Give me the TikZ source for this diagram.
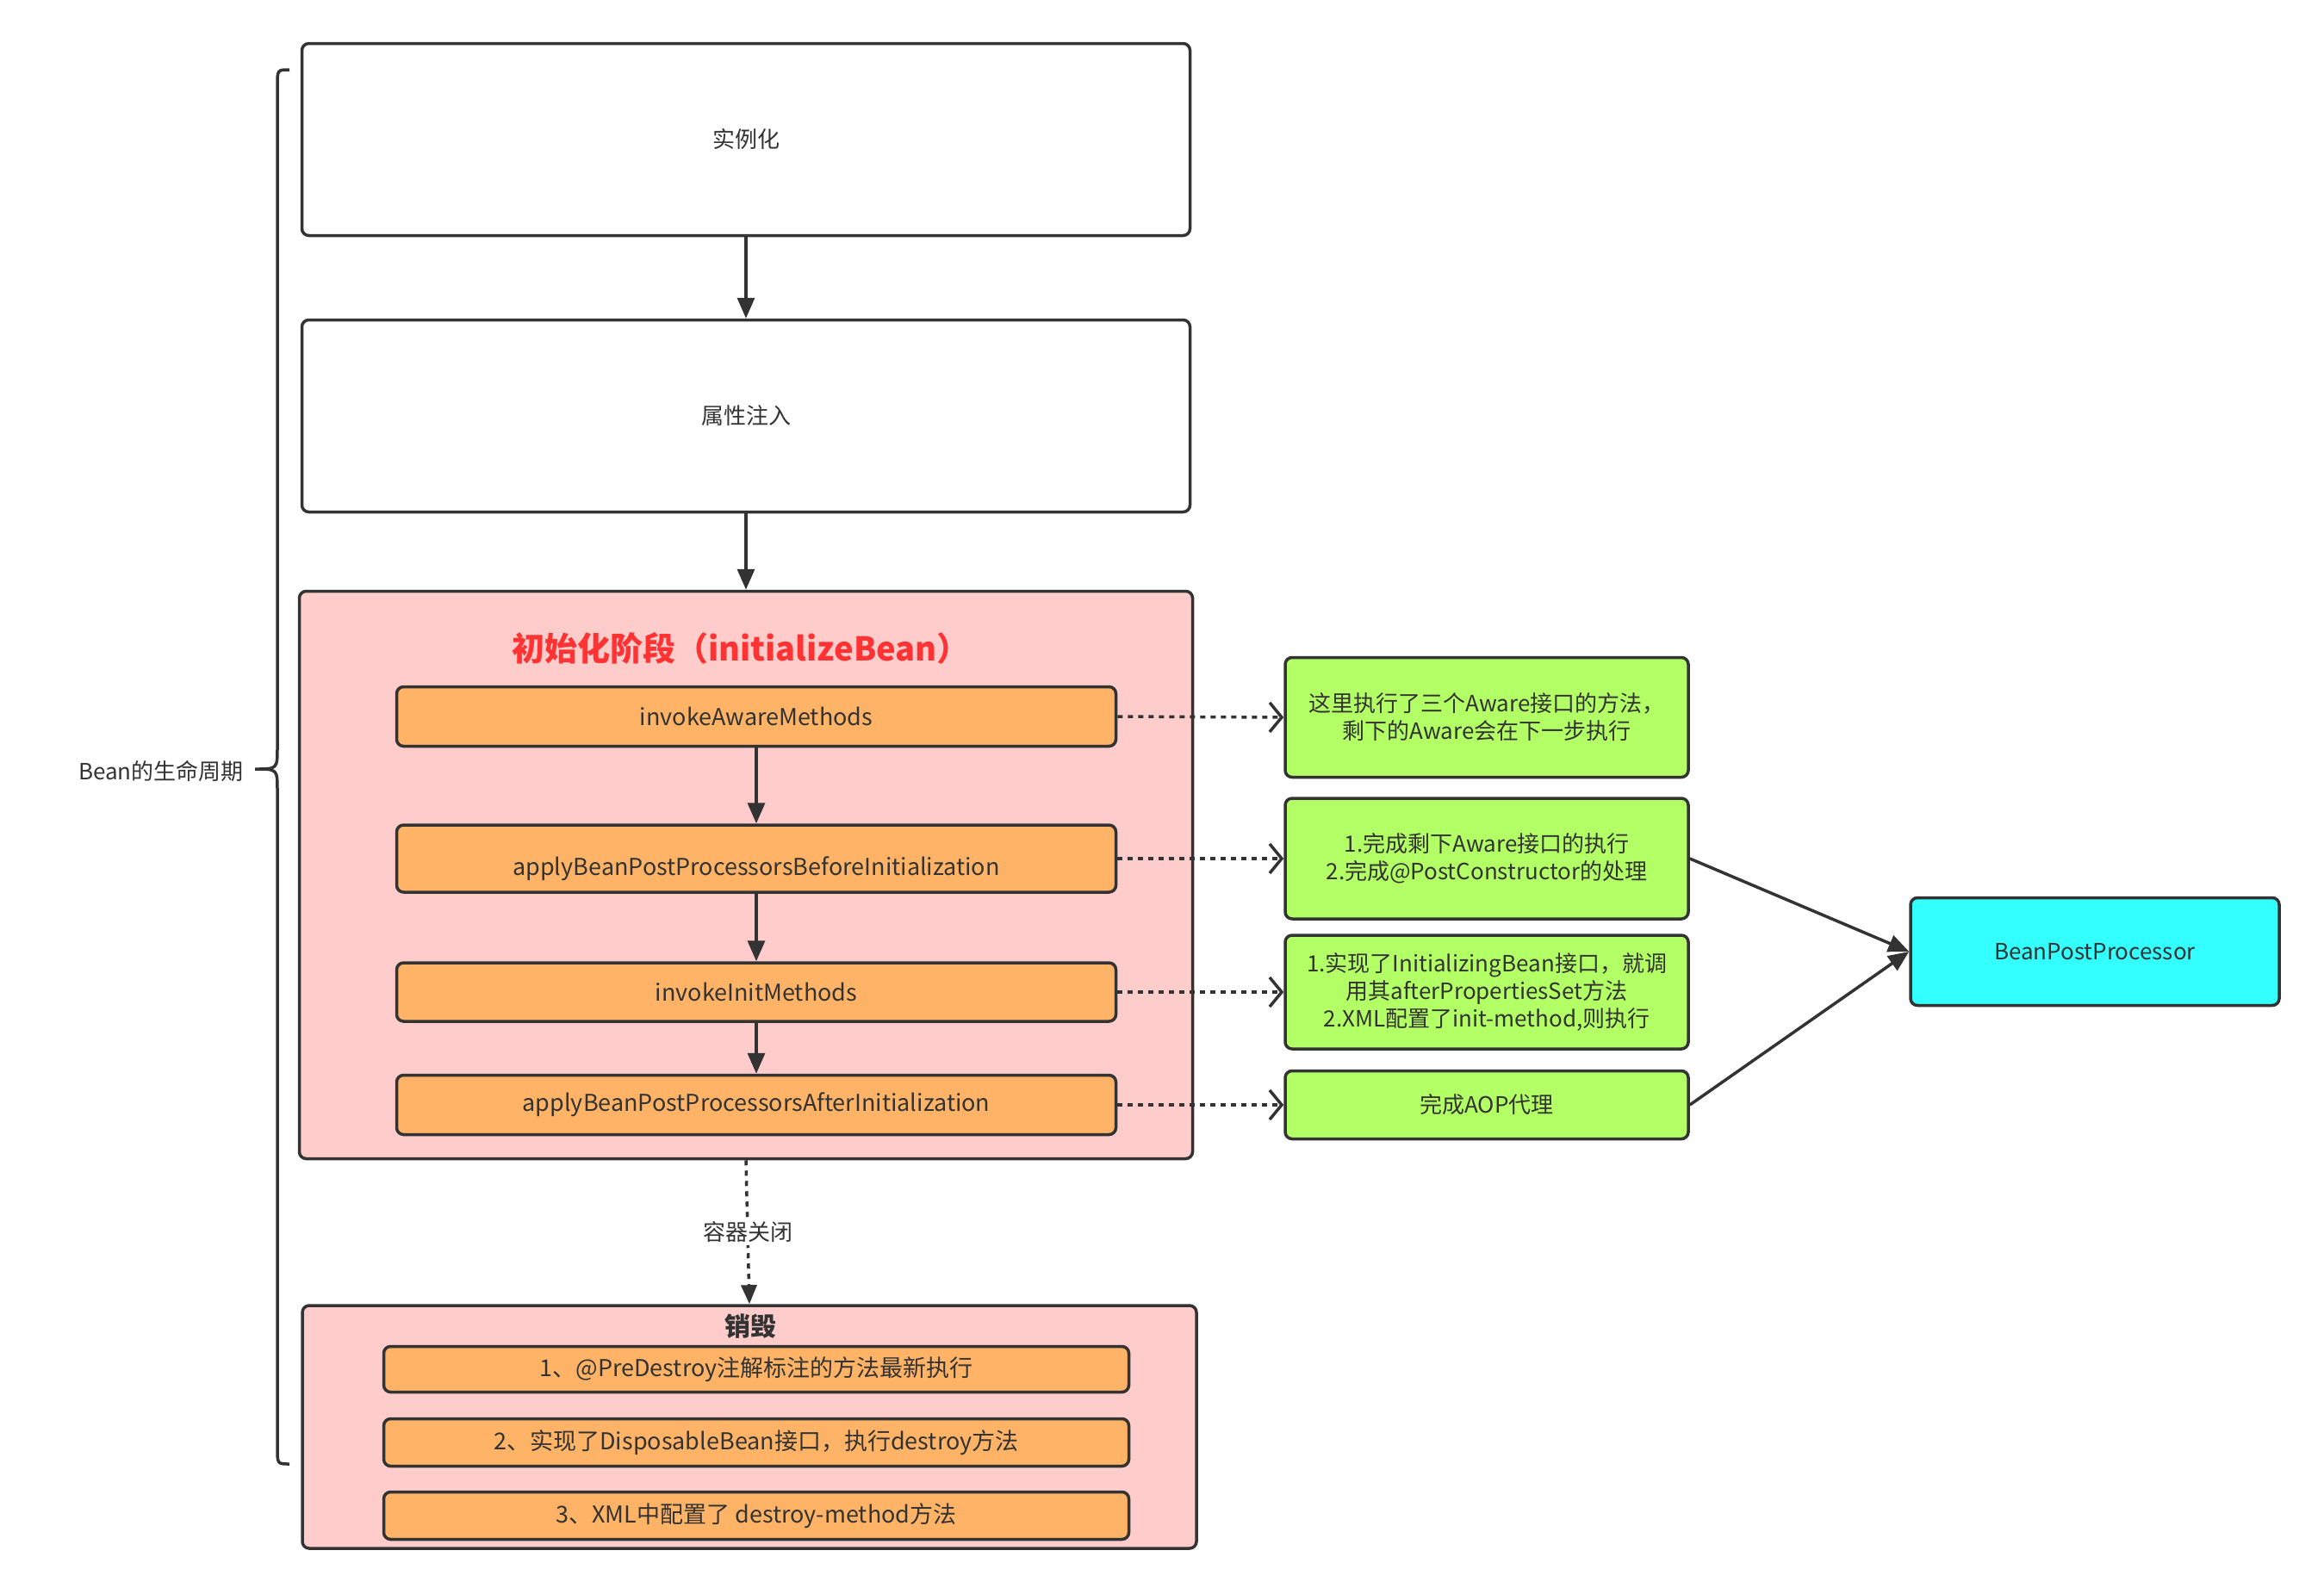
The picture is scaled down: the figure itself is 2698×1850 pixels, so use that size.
\documentclass[tikz,border=0pt]{standalone}
\usepackage{fontspec}
\setmainfont{Noto Sans CJK SC}
\usetikzlibrary{arrows.meta}
\definecolor{ln}{HTML}{333333}
\definecolor{pinkc}{HTML}{FFCCCC}
\definecolor{orangec}{HTML}{FFB366}
\definecolor{greenc}{HTML}{B3FF66}
\definecolor{cyanc}{HTML}{33FFFF}
\definecolor{titlec}{HTML}{FF3333}
\tikzset{
  basebox/.style={draw=ln, line width=3.5pt, rounded corners=8pt, align=center, inner sep=0pt, text=ln},
  whitebox/.style={basebox, fill=white, minimum width=1031pt, minimum height=223pt, font=\fontsize{26}{32}\selectfont},
  pinkbox/.style={basebox, fill=pinkc},
  orangebox/.style={basebox, fill=orangec, minimum width=835pt, font=\fontsize{27}{33}\selectfont},
  dorangebox/.style={basebox, fill=orangec, minimum width=865pt, font=\fontsize{27}{33}\selectfont},
  greenbox/.style={basebox, fill=greenc, minimum width=468pt, font=\fontsize{26}{32}\selectfont},
  cyanbox/.style={basebox, fill=cyanc, minimum width=428pt, minimum height=125pt, font=\fontsize{26}{32}\selectfont},
  solidarrow/.style={draw=ln, line width=3.5pt, -{Triangle[length=24pt,width=20pt]}},
  dotarrow/.style={draw=ln, line width=3.5pt, dash pattern=on 6pt off 6pt, -{Straight Barb[length=14pt,width=34pt,line width=3.5pt]}},
  dotsolidtip/.style={draw=ln, line width=3.5pt, dash pattern=on 6pt off 6pt, -{Triangle[length=22pt,width=18pt]}},
  plainlabel/.style={text=ln, inner sep=2pt}
}
\begin{document}
\begin{tikzpicture}[x=1pt,y=-1pt]
\useasboundingbox (0,0) rectangle (2698,1850);

% top boxes
\node[whitebox] (inst) at (866,162) {实例化};
\node[whitebox] (attr) at (866,483) {属性注入};

% init phase container
\node[pinkbox, minimum width=1037pt, minimum height=659pt] (init) at (866,1016) {};
\node[text=titlec, font=\fontsize{38}{44}\selectfont\bfseries] (title) at (860,753) {初始化阶段（initializeBean）};

\node[orangebox, minimum height=69pt] (o1) at (878,832) {invokeAwareMethods};
\node[orangebox, minimum height=78pt] (o2) at (878,997) {\smash{\raisebox{-19pt}{applyBeanPostProcessorsBeforeInitialization}}};
\node[orangebox, minimum height=68pt] (o3) at (878,1152) {invokeInitMethods};
\node[orangebox, minimum height=69pt] (o4) at (878,1283) {applyBeanPostProcessorsAfterInitialization};

% green notes
\node[greenbox, minimum height=139pt] (g1) at (1726,833) {这里执行了三个Aware接口的方法，\\ 剩下的Aware会在下一步执行};
\node[greenbox, minimum height=140pt] (g2) at (1726,997) {1.完成剩下Aware接口的执行\\2.完成@PostConstructor的处理};
\node[greenbox, minimum height=132pt] (g3) at (1726,1152) {1.实现了InitializingBean接口，就调\\用其afterPropertiesSet方法\\2.XML配置了init-method,则执行};
\node[greenbox, minimum height=79pt] (g4) at (1726,1283) {完成AOP代理};

\node[cyanbox] (bpp) at (2432,1105) {BeanPostProcessor};

% destroy container
\node[pinkbox, minimum width=1038pt, minimum height=282pt] (destroy) at (870,1657) {};
\node[text=ln, font=\fontsize{30}{36}\selectfont\bfseries] (dtitle) at (871,1540) {销毁};
\node[dorangebox, minimum height=53pt] (d1) at (878,1590) {1、@PreDestroy注解标注的方法最新执行};
\node[dorangebox, minimum height=55pt] (d2) at (878,1675) {2、实现了DisposableBean接口，执行destroy方法};
\node[dorangebox, minimum height=55pt] (d3) at (878,1760) {3、XML中配置了 destroy-method方法};

% brace and label
\draw[draw=ln, line width=3.5pt] (336,81) .. controls (322,81) .. (322,100) -- (322,868)
  .. controls (322,893) .. (296,893) .. controls (322,893) .. (322,918) -- (322,1681)
  .. controls (322,1700) .. (336,1700);
\node[plainlabel, font=\fontsize{26}{32}\selectfont, anchor=east] (lifecycle) at (285,896) {Bean的生命周期};

% main flow arrows
\draw[solidarrow] (inst.south) -- (attr.north);
\draw[solidarrow] (attr.south) -- (init.north);
\draw[solidarrow] (o1.south) -- (o2.north);
\draw[solidarrow] (o2.south) -- (o3.north);
\draw[solidarrow] (o3.south) -- (o4.north);

% dotted links to notes
\draw[dotarrow] (o1.east) -- (g1.west);
\draw[dotarrow] (o2.east) -- (g2.west);
\draw[dotarrow] (o3.east) -- (g3.west);
\draw[dotarrow] (o4.east) -- (g4.west);

% to BeanPostProcessor
\draw[solidarrow] (g2.east) -- (bpp.west);
\draw[solidarrow] (g4.east) -- (bpp.west);

% container close
\draw[dotsolidtip] (init.south) -- node[fill=white, text=ln, font=\fontsize{26}{32}\selectfont, inner sep=3pt] (closelbl) {容器关闭} (destroy.north);
\end{tikzpicture}
\end{document}
